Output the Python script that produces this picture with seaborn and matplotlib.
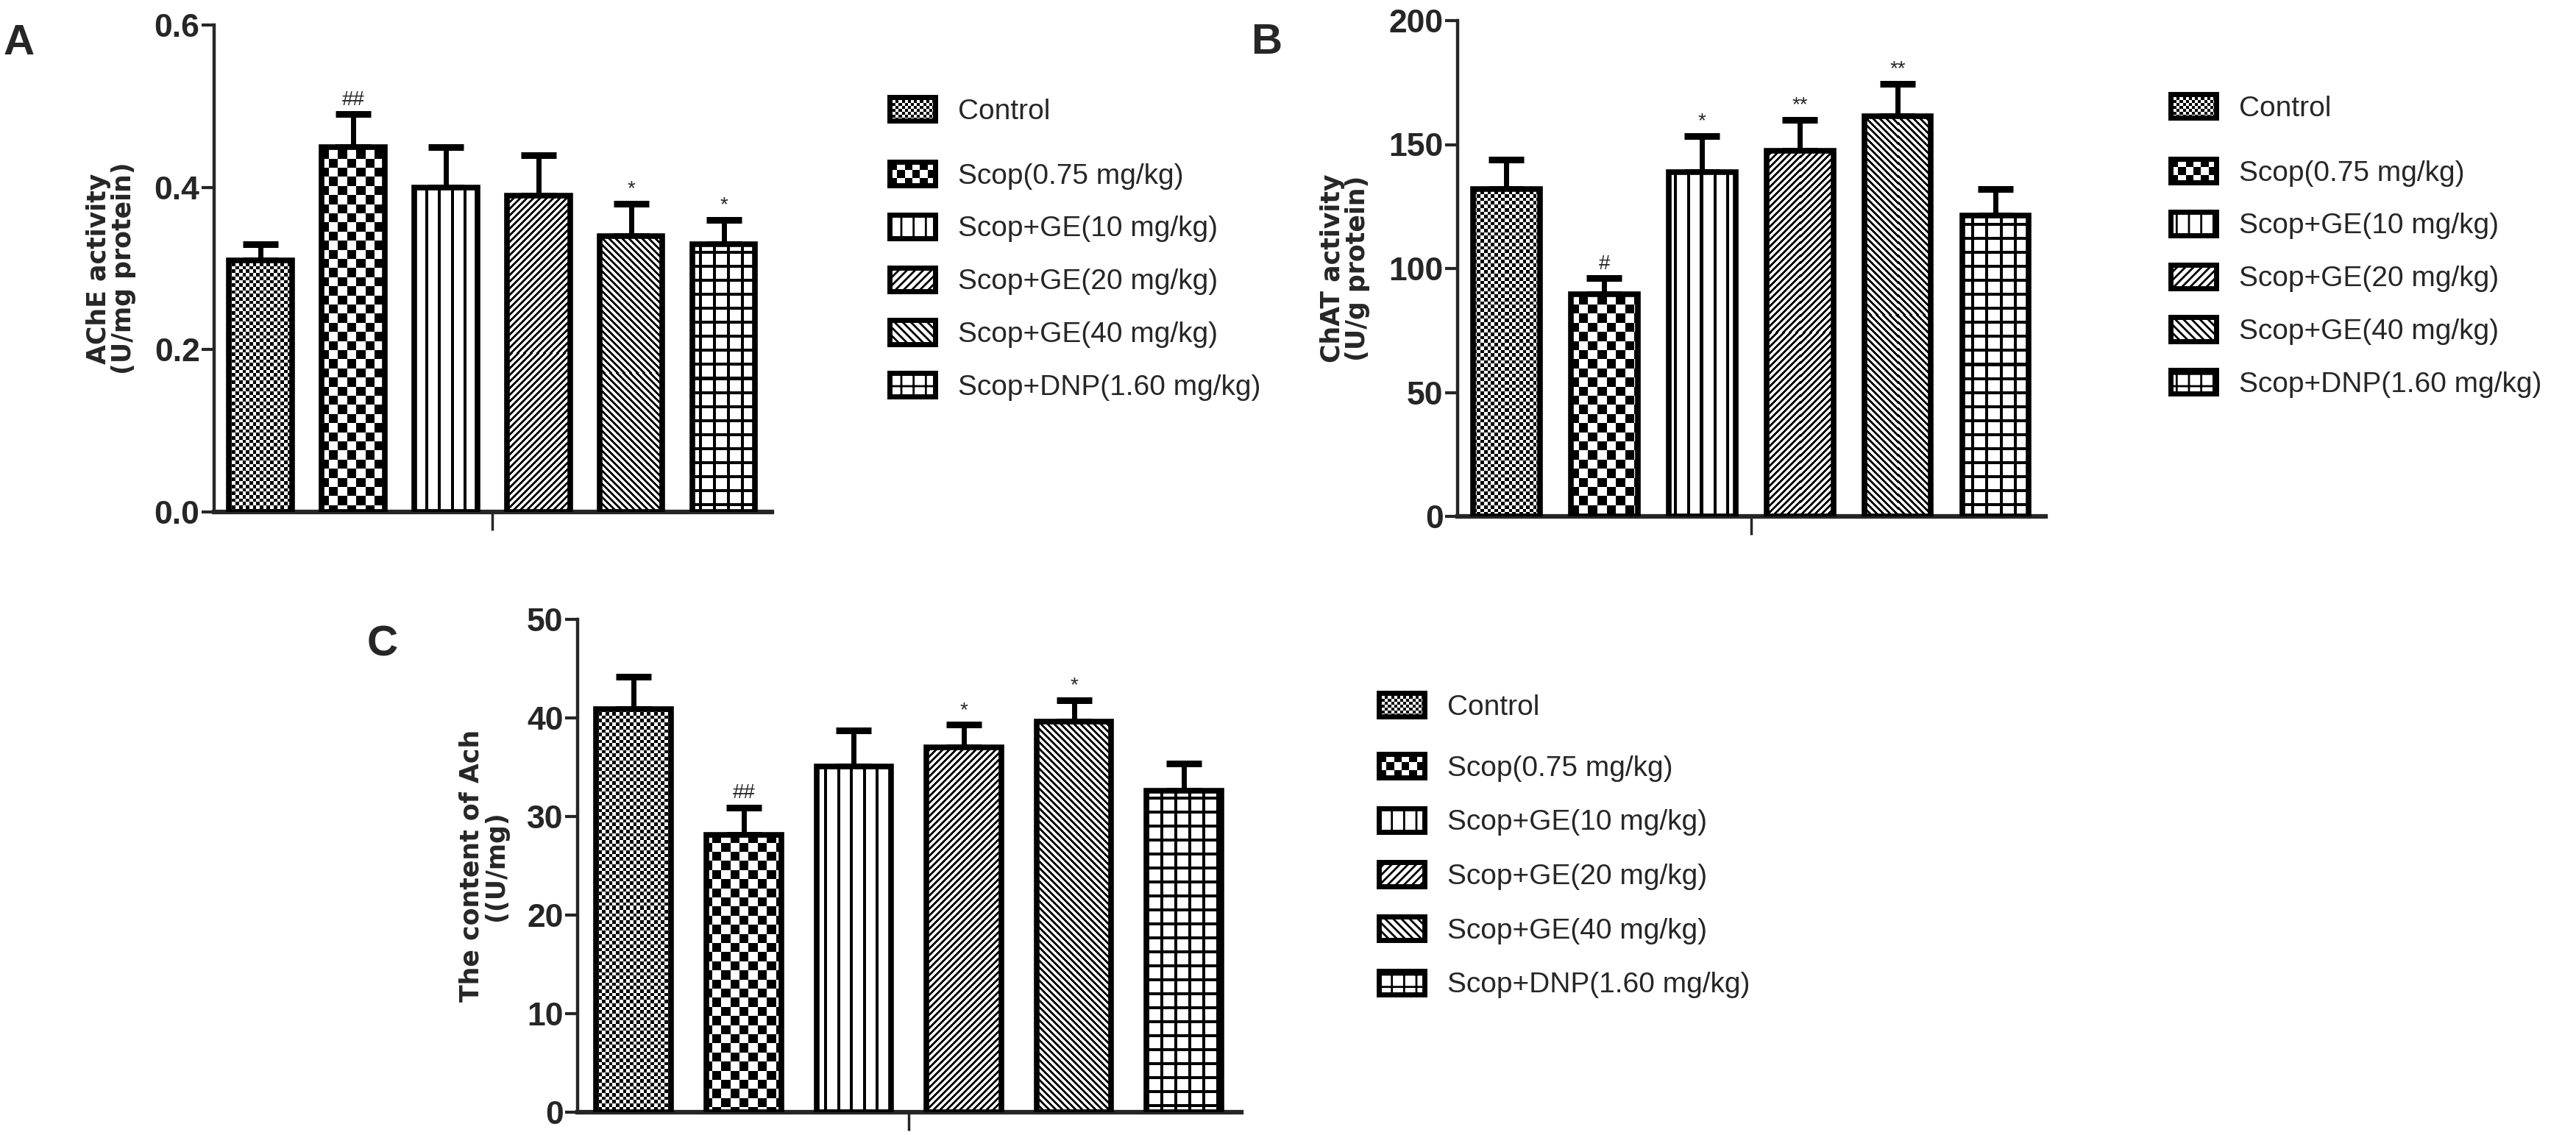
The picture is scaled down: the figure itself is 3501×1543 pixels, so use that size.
import numpy as np
import pandas as pd
import matplotlib
matplotlib.use("Agg")
import matplotlib.pyplot as plt
import seaborn as sns
from matplotlib import font_manager
from matplotlib.patches import Patch, Rectangle
from matplotlib.legend_handler import HandlerBase

# ---------------- data ----------------
groups = ["Control", "Scop(0.75 mg/kg)", "Scop+GE(10 mg/kg)", "Scop+GE(20 mg/kg)",
          "Scop+GE(40 mg/kg)", "Scop+DNP(1.60 mg/kg)"]

ache_mean = [0.31, 0.45, 0.40, 0.39, 0.34, 0.33]
ache_err = [0.02, 0.04, 0.05, 0.05, 0.04, 0.03]
ache_marks = ["", "##", "", "", "*", "*"]
ache_ticks = [0.0, 0.2, 0.4, 0.6]

chat_mean = [132, 89.5, 139, 147.5, 161.5, 121.5]
chat_err = [12, 6.5, 14.5, 12.5, 13, 10.5]
chat_marks = ["", "#", "*", "**", "**", ""]
chat_ticks = [0, 50, 100, 150, 200]

ach_mean = [40.9, 28.1, 35.1, 37.0, 39.6, 32.6]
ach_err = [3.3, 2.8, 3.6, 2.3, 2.2, 2.8]
ach_marks = ["", "##", "", "*", "*", ""]
ach_ticks = [0, 10, 20, 30, 40, 50]

patterns = ["checker_fine", "checker", "vline", "diag_up", "diag_down", "grid"]
legend_hatch = {"vline": "|", "diag_up": "///", "diag_down": "\\\\\\", "grid": "+"}

# ---------------- style ----------------
sns.set_style("ticks")
plt.rcParams["font.family"] = ["Liberation Sans", "DejaVu Sans"]
plt.rcParams["hatch.linewidth"] = 2.0
plt.rcParams["hatch.color"] = "black"

_names = {f.name for f in font_manager.fontManager.ttflist}
if "Liberation Sans Narrow" in _names:
    tick_family, tick_size = ["Liberation Sans Narrow", "Liberation Sans"], 36
else:
    tick_family, tick_size = ["Liberation Sans", "DejaVu Sans"], 32

W, H = 3501, 1543
fig = plt.figure(figsize=(W / 100, H / 100), dpi=100)


def pattern_black(kind, X, Y):
    if kind == "checker_fine":
        return ((X // 4.7).astype(int) + (Y // 4.7).astype(int)) % 2 == 0
    if kind == "checker":
        return ((X // 12.4).astype(int) + (Y // 12.4).astype(int)) % 2 == 0
    if kind == "vline":
        return (X % 17.5) < 4.0
    if kind == "diag_up":
        return ((X - Y) % 9.0) < 3.6
    if kind == "diag_down":
        return ((X + Y) % 9.0) < 3.6
    if kind == "grid":
        return ((X % 19.0) < 3.6) | ((Y % 19.0) < 3.6)
    return np.zeros_like(X, dtype=bool)


class HandlerChecker(HandlerBase):
    def __init__(self, cell):
        super().__init__()
        self.cell = cell

    def create_artists(self, legend, orig_handle, xdescent, ydescent, width, height, fontsize, trans):
        x0, y0 = -xdescent, -ydescent
        arts = [Rectangle((x0, y0), width, height, facecolor="white", edgecolor="none", transform=trans)]
        nx = max(1, int(round(width / self.cell)))
        ny = max(1, int(round(height / self.cell)))
        cw, ch = width / nx, height / ny
        for i in range(nx):
            for j in range(ny):
                if (i + j) % 2 == 0:
                    arts.append(Rectangle((x0 + i * cw, y0 + j * ch), cw, ch, facecolor="black",
                                          edgecolor="none", transform=trans))
        arts.append(Rectangle((x0, y0), width, height, facecolor="none", edgecolor="black",
                              linewidth=5, transform=trans))
        return arts


def make_handles():
    handles, hmap = [], {}
    for pat in patterns:
        if pat.startswith("checker"):
            hd = Patch(facecolor="white", edgecolor="black")
            hmap[hd] = HandlerChecker(3.0 if pat == "checker_fine" else 7.0)
        else:
            hd = Patch(facecolor="white", edgecolor="black", linewidth=5, hatch=legend_hatch[pat])
        handles.append(hd)
    return handles, hmap


def draw_panel(rect, means, errs, marks, ticks, fmt, ylabel, xlim, ylim, letter, letter_xy, leg):
    ax = fig.add_axes(rect)
    df = pd.DataFrame({"group": groups, "value": means})
    sns.barplot(data=df, x="group", y="value", hue="group", order=groups, hue_order=groups,
                palette=["white"] * 6, saturation=1, edgecolor="black", linewidth=5.5,
                width=0.68, errorbar=None, legend=False, ax=ax, zorder=3)
    ax.errorbar(np.arange(len(groups)), means, yerr=[np.zeros(len(groups)), errs], fmt="none",
                ecolor="black", elinewidth=5, capsize=17, capthick=6.5, zorder=2)
    ax.set_xlim(*xlim)
    ax.set_ylim(*ylim)

    # pixel-exact fill textures, clipped to each seaborn bar
    for p, pat in zip(ax.patches, patterns):
        x0, w, h = p.get_x(), p.get_width(), p.get_height()
        (px0, py0), (px1, py1) = ax.transData.transform([(x0, 0), (x0 + w, h)])
        nx = max(1, int(round(px1 - px0)))
        ny = max(1, int(round(py1 - py0)))
        X, Y = np.meshgrid(np.round(px0) + np.arange(nx), np.round(py0) + np.arange(ny))
        arr = np.where(pattern_black(pat, X, Y), 0.0, 1.0)
        im = ax.imshow(arr, cmap="gray", vmin=0, vmax=1, extent=[x0, x0 + w, 0, h],
                       origin="lower", interpolation="nearest", aspect="auto", zorder=2.5)
        im.set_clip_path(p)
        p.set_facecolor("none")
    ax.set_xlim(*xlim)
    ax.set_ylim(*ylim)

    for i, m in enumerate(marks):
        if m:
            ax.annotate(m, xy=(i, means[i] + errs[i]), xytext=(0, 9), textcoords="offset points",
                        ha="center", va="baseline", fontsize=20, zorder=5)

    sns.despine(ax=ax)
    ax.spines["left"].set_linewidth(3.2)
    ax.spines["bottom"].set_linewidth(4.5)
    ax.set_xticks([2.5])
    ax.set_xticklabels([""])
    ax.set_xlabel("")
    ax.tick_params(axis="x", length=18, width=2.5, direction="out")
    ax.set_yticks(ticks)
    ax.set_yticklabels([fmt.format(t) for t in ticks], fontsize=tick_size, fontweight="bold",
                       family=tick_family)
    ax.tick_params(axis="y", length=12, width=3.0, direction="out", pad=2)
    ax.set_ylabel(ylabel, fontsize=25, fontweight="bold", family="DejaVu Sans",
                  labelpad=18, linespacing=1.0)

    fig.text(letter_xy[0] / W, 1 - letter_xy[1] / H, letter, fontsize=42, fontweight="bold",
             ha="left", va="baseline")

    handles, hmap = make_handles()
    common = dict(loc="upper left", bbox_transform=fig.transFigure, frameon=False, borderpad=0,
                  borderaxespad=0, fontsize=28, handlelength=1.6, handleheight=0.9,
                  handletextpad=0.8)
    lx, top1, top2, spacing = leg
    fig.legend(handles[:1], groups[:1], handler_map=hmap,
               bbox_to_anchor=(lx / W, 1 - top1 / H), labelspacing=0.9, **common)
    fig.legend(handles[1:], groups[1:], handler_map=hmap,
               bbox_to_anchor=(lx / W, 1 - top2 / H), labelspacing=spacing, **common)
    return ax


draw_panel([291 / W, 1 - 696 / H, 758 / W, 662 / H], ache_mean, ache_err, ache_marks, ache_ticks,
           "{:.1f}", "AChE activity\n(U/mg protein)", (-0.5, 5.52), (0, 0.6), "A", (5, 74),
           (1209, 132, 220, 0.88))
draw_panel([1981 / W, 1 - 702 / H, 799 / W, 674 / H], chat_mean, chat_err, chat_marks, chat_ticks,
           "{:.0f}", "ChAT activity\n(U/g protein)", (-0.5, 5.51), (0, 200), "B", (1700, 73),
           (2950, 128, 216, 0.88))
draw_panel([785 / W, 1 - 1512 / H, 902 / W, 670 / H], ach_mean, ach_err, ach_marks, ach_ticks,
           "{:.0f}", "The content of Ach\n((U/mg)", (-0.51, 5.52), (0, 50), "C", (499, 892),
           (1874, 942, 1025, 0.93))

fig.savefig("out.png", dpi=100)
